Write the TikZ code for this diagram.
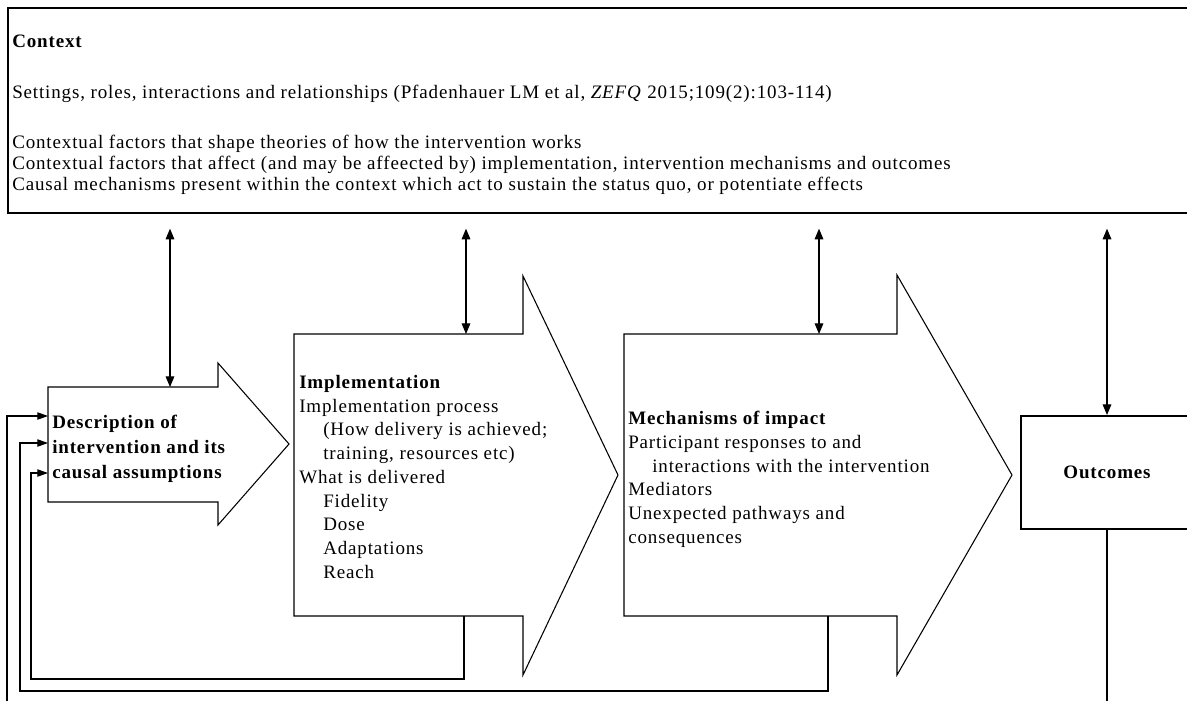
\documentclass[tikz,border=0pt]{standalone}
\usepackage{fontspec}
\setmainfont{Liberation Serif}[LetterSpace=4.5]
\usetikzlibrary{arrows.meta}
\begin{document}
\begin{tikzpicture}[x=0.75pt,y=-0.75pt,
  boxline/.style={draw,line width=1.5pt},
  shapeline/.style={draw,line width=0.8pt,line join=miter},
  conn/.style={line width=0.8pt},
  biarrow/.style={conn,{Triangle[length=8pt,width=6.5pt]}-{Triangle[length=8pt,width=6.5pt]}},
  fb/.style={conn,-{Triangle[length=8pt,width=5.5pt]}},
  txt/.style={inner sep=0pt,anchor=north west,align=left,font=\fontsize{14.25}{17.8}\selectfont},
  ctxtxt/.style={txt,font=\fontsize{14.25}{15.75}\selectfont},
  desctxt/.style={txt,font=\fontsize{14.25}{18.75}\selectfont\bfseries}]
\useasboundingbox (0,0) rectangle (1187,700);
\clip (0,0) rectangle (1187,700);
% context box
\node[boxline,anchor=north west,minimum width=894.75pt,minimum height=153.75pt,inner sep=0pt] (context) at (7,7) {};
\node[txt,font=\fontsize{14.25}{15.4}\selectfont\bfseries] (ctxhead) at (12,35) {Context};
\node[ctxtxt] (ctxset) at (12,85) {Settings, roles, interactions and relationships (Pfadenhauer LM et al, \textit{ZEFQ} 2015;109(2):103-114)};
\node[ctxtxt] (ctxlines) at (12,135) {Contextual factors that shape theories of how the intervention works\\
Contextual factors that affect (and may be affeected by) implementation, intervention mechanisms and outcomes\\
Causal mechanisms present within the context which act to sustain the status quo, or potentiate effects};
% description arrow
\draw[shapeline] (48,387) -- (218,387) -- (218,363) -- (289,444) -- (218,525) -- (218,502) -- (48,502) -- cycle;
\coordinate (dtop) at (170,387);
\coordinate (din1) at (48,416);
\coordinate (din2) at (48,443);
\coordinate (din3) at (48,473);
\node[desctxt] (desc) at (52,415) {Description of\\intervention and its\\causal assumptions};
% implementation arrow
\draw[shapeline] (294,334) -- (523,334) -- (523,276) -- (618,475) -- (523,675) -- (523,616) -- (294,616) -- cycle;
\coordinate (itop) at (466,334);
\coordinate (ibot) at (464,616);
\node[txt] (impl) at (299,375) {\textbf{Implementation}\\
Implementation process\\
\hspace*{18pt}(How delivery is achieved;\\
\hspace*{18pt}training, resources etc)\\
What is delivered\\
\hspace*{18pt}Fidelity\\
\hspace*{18pt}Dose\\
\hspace*{18pt}Adaptations\\
\hspace*{18pt}Reach};
% mechanisms arrow
\draw[shapeline] (624,334) -- (897,334) -- (897,275) -- (1012,475) -- (897,675) -- (897,616) -- (624,616) -- cycle;
\coordinate (mtop) at (819,334);
\coordinate (mbot) at (828,616);
\node[txt] (mech) at (628,411) {\textbf{Mechanisms of impact}\\
Participant responses to and\\
\hspace*{18pt}interactions with the intervention\\
Mediators\\
Unexpected pathways and\\
consequences};
% outcomes
\node[boxline,minimum width=129pt,minimum height=84.75pt,inner sep=0pt,font=\fontsize{14.25}{17}\selectfont\bfseries] (out) at (1107,472.5) {Outcomes};
% context links
\draw[biarrow,shorten <=11pt] (context.south -| dtop) -- (dtop);
\draw[biarrow,shorten <=11pt] (context.south -| itop) -- (itop);
\draw[biarrow,shorten <=11pt] (context.south -| mtop) -- (mtop);
\draw[biarrow,shorten <=11pt] (context.south -| out.north) -- (out.north);
% feedback loops
\draw[fb] (ibot) -- (464,679) -- (31,679) -- (31,473) -- (din3);
\draw[fb] (mbot) -- (828,691) -- (20,691) -- (20,443) -- (din2);
\draw[fb] (out.south) -- (1107,730) -- (7,730) -- (7,416) -- (din1);
\end{tikzpicture}
\end{document}
